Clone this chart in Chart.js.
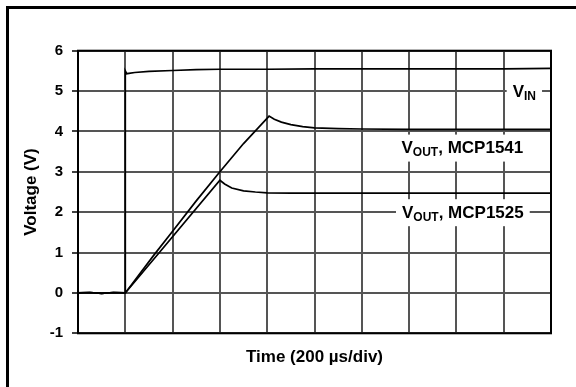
<!DOCTYPE html>
<html>
<head>
<meta charset="utf-8">
<script src="https://cdn.jsdelivr.net/npm/chart.js@4"></script>
<style>
html,body{margin:0;padding:0;background:#fff;}
#wrap{position:relative;width:576px;height:387px;}
</style>
</head>
<body>
<div id="wrap"><canvas id="c" width="576" height="387"></canvas></div>
<script>
// Time in divisions (200 µs/div), voltages in V
const vinTime  = [0, 0.25, 0.5, 0.75, 1.0, 1.0, 1.03, 1.2, 1.5, 2.0, 2.5, 3.0, 4.0, 5.0, 6.0, 7.0, 8.0, 9.0, 10.0];
const vinVolts = [0.0, 0.01, -0.01, 0.01, 0.0, 5.5, 5.43, 5.46, 5.49, 5.51, 5.53, 5.54, 5.54, 5.55, 5.55, 5.55, 5.55, 5.55, 5.56];

const out1541Time  = [0, 0.25, 0.5, 0.75, 1.0, 1.6, 2.0, 2.5, 3.0, 3.5, 4.04, 4.15, 4.3, 4.5, 4.75, 5.0, 5.5, 6.0, 7.0, 8.0, 9.0, 10.0];
const out1541Volts = [0.0, 0.01, -0.01, 0.01, 0.0, 0.93, 1.53, 2.28, 3.0, 3.7, 4.38, 4.3, 4.23, 4.17, 4.12, 4.09, 4.07, 4.06, 4.05, 4.05, 4.05, 4.05];

const out1525Time  = [0, 0.25, 0.5, 0.75, 1.0, 1.72, 3.0, 3.1, 3.25, 3.5, 3.75, 4.0, 4.5, 5.0, 6.0, 7.0, 8.0, 9.0, 10.0];
const out1525Volts = [0.0, 0.01, -0.01, 0.01, 0.0, 1.0, 2.79, 2.7, 2.6, 2.53, 2.5, 2.48, 2.47, 2.47, 2.47, 2.47, 2.47, 2.47, 2.47];

const yTicks = [-1, 0, 1, 2, 3, 4, 5, 6];
const xTitle = 'Time (200 µs/div)';
const yTitle = 'Voltage (V)';

// Curve labels: main text, subscript, trailing text
const curveLabels = [
  {main: 'V', sub: 'IN', tail: '', x: 9.19, y: 5.0},
  {main: 'V', sub: 'OUT', tail: ', MCP1541', x: 6.84, y: 3.6},
  {main: 'V', sub: 'OUT', tail: ', MCP1525', x: 6.85, y: 2.0}
];

function pts(t, v) { return t.map((x, i) => ({x: x, y: v[i]})); }

const FONT = "'Liberation Sans', Arial, sans-serif";

const decor = {
  id: 'decor',
  beforeDraw(chart) {
    const ctx = chart.ctx;
    ctx.save();
    ctx.fillStyle = '#fff';
    ctx.fillRect(0, 0, chart.width, chart.height);
    ctx.fillStyle = '#000';
    ctx.fillRect(6, 6, 3, chart.height - 6);
    ctx.fillRect(6, 6, chart.width - 6, 3);
    ctx.restore();
  },
  afterDatasetsDraw(chart) {
    const ctx = chart.ctx;
    const xs = chart.scales.x, ys = chart.scales.y;
    ctx.save();
    curveLabels.forEach(l => {
      const px = xs.getPixelForValue(l.x);
      const py = ys.getPixelForValue(l.y);
      ctx.font = 'bold 17px ' + FONT;
      const wMain = ctx.measureText(l.main).width;
      ctx.font = 'bold 12px ' + FONT;
      const wSub = ctx.measureText(l.sub).width;
      ctx.font = 'bold 17px ' + FONT;
      const wTail = ctx.measureText(l.tail).width;
      const total = wMain + wSub + wTail;
      const padL = 6, padR = 6;
      ctx.fillStyle = '#fff';
      ctx.fillRect(px - padL, py - 13, total + padL + padR, 27);
      ctx.fillStyle = '#000';
      ctx.textBaseline = 'alphabetic';
      ctx.textAlign = 'left';
      const base = py + 5.5;
      ctx.font = 'bold 17px ' + FONT;
      ctx.fillText(l.main, px, base);
      ctx.font = 'bold 12px ' + FONT;
      ctx.fillText(l.sub, px + wMain, base + 3);
      ctx.font = 'bold 17px ' + FONT;
      ctx.fillText(l.tail, px + wMain + wSub, base);
    });
    // plot frame
    const a = chart.chartArea;
    ctx.strokeStyle = '#000';
    ctx.lineWidth = 2;
    ctx.strokeRect(a.left, a.top, a.right - a.left, a.bottom - a.top);
    ctx.restore();
  }
};

const ds = (label, t, v) => ({
  label: label,
  data: pts(t, v),
  borderColor: '#000',
  borderWidth: 1.7,
  pointRadius: 0,
  tension: 0,
  fill: false
});

new Chart(document.getElementById('c'), {
  type: 'line',
  data: {
    datasets: [
      ds('VIN', vinTime, vinVolts),
      ds('VOUT, MCP1541', out1541Time, out1541Volts),
      ds('VOUT, MCP1525', out1525Time, out1525Volts)
    ]
  },
  options: {
    responsive: false,
    animation: false,
    devicePixelRatio: 1,
    layout: {padding: {top: 50.7, right: 25, bottom: 0, left: 0}},
    plugins: {legend: {display: false}, tooltip: {enabled: false}},
    scales: {
      x: {
        type: 'linear', min: 0, max: 10,
        ticks: {display: false, stepSize: 1},
        grid: {color: '#555', lineWidth: 2, drawTicks: false},
        border: {display: false},
        title: {display: true, text: xTitle, color: '#000',
                font: {family: FONT, size: 17, weight: 'bold'}, padding: {top: 0, bottom: 19}},
        afterFit(s) { s.height = 387 - 333.3; }
      },
      y: {
        type: 'linear', min: -1, max: 6,
        afterBuildTicks(s) { s.ticks = yTicks.map(v => ({value: v})); },
        ticks: {color: '#000', padding: 9, font: {family: FONT, size: 15, weight: 'bold'}},
        grid: {color: '#555', lineWidth: 2, drawTicks: true, tickLength: 6, tickColor: '#000', tickWidth: 1.5},
        border: {display: false},
        title: {display: true, text: yTitle, color: '#000',
                font: {family: FONT, size: 17, weight: 'bold'}, padding: {top: 21, bottom: 0}},
        afterFit(s) { s.width = 78; }
      }
    }
  },
  plugins: [decor]
});
</script>
</body>
</html>
